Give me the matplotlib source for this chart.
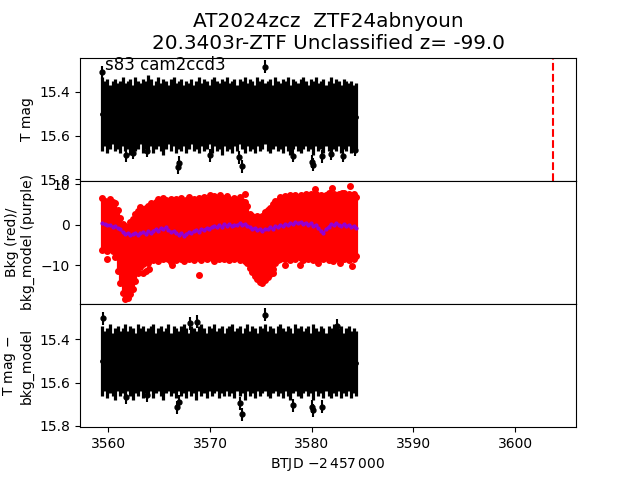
import numpy as np
import matplotlib
matplotlib.use("Agg")
import matplotlib.pyplot as plt

# time grid of the binned light curve (BTJD - 2457000)
btjd = [3559.40, 3559.65, 3559.90, 3560.15, 3560.40, 3560.65, 3560.90, 3561.15, 3561.40, 3561.65,
        3561.90, 3562.15, 3562.40, 3562.65, 3562.90, 3563.15, 3563.40, 3563.65, 3563.90, 3564.15,
        3564.40, 3564.65, 3564.90, 3565.15, 3565.40, 3565.65, 3565.90, 3566.15, 3566.40, 3566.65,
        3566.90, 3567.15, 3567.40, 3567.65, 3567.90, 3568.15, 3568.40, 3568.65, 3568.90, 3569.15,
        3569.40, 3569.65, 3569.90, 3570.15, 3570.40, 3570.65, 3570.90, 3571.15, 3571.40, 3571.65,
        3571.90, 3572.15, 3572.40, 3572.65, 3572.90, 3573.15, 3573.40, 3573.65, 3573.90, 3574.15,
        3574.40, 3574.65, 3574.90, 3575.15, 3575.40, 3575.65, 3575.90, 3576.15, 3576.40, 3576.65,
        3576.90, 3577.15, 3577.40, 3577.65, 3577.90, 3578.15, 3578.40, 3578.65, 3578.90, 3579.15,
        3579.40, 3579.65, 3579.90, 3580.15, 3580.40, 3580.65, 3580.90, 3581.15, 3581.40, 3581.65,
        3581.90, 3582.15, 3582.40, 3582.65, 3582.90, 3583.15, 3583.40, 3583.65, 3583.90, 3584.15,
        3584.40]

# T mag: bright and faint edge of the error bars at each time
tmag_hi = [15.33, 15.35, 15.34, 15.37, 15.35, 15.34, 15.36, 15.35, 15.33, 15.36,
           15.35, 15.34, 15.37, 15.33, 15.35, 15.36, 15.34, 15.35, 15.32, 15.34,
           15.37, 15.35, 15.33, 15.36, 15.34, 15.35, 15.37, 15.34, 15.33, 15.36,
           15.35, 15.34, 15.37, 15.35, 15.36, 15.34, 15.37, 15.35, 15.33, 15.36,
           15.34, 15.35, 15.37, 15.34, 15.33, 15.35, 15.36, 15.34, 15.35, 15.33,
           15.36, 15.35, 15.34, 15.37, 15.34, 15.35, 15.33, 15.36, 15.34, 15.35,
           15.37, 15.33, 15.35, 15.34, 15.36, 15.35, 15.34, 15.37, 15.33, 15.35,
           15.36, 15.34, 15.35, 15.33, 15.37, 15.34, 15.35, 15.36, 15.34, 15.33,
           15.35, 15.37, 15.34, 15.35, 15.33, 15.36, 15.35, 15.34, 15.37, 15.35,
           15.33, 15.36, 15.34, 15.35, 15.37, 15.34, 15.35, 15.36, 15.35, 15.37,
           15.36]
tmag_lo = [15.67, 15.65, 15.68, 15.66, 15.64, 15.67, 15.66, 15.68, 15.65, 15.67,
           15.66, 15.69, 15.65, 15.67, 15.66, 15.64, 15.68, 15.66, 15.67, 15.65,
           15.68, 15.66, 15.65, 15.67, 15.69, 15.66, 15.64, 15.67, 15.65, 15.68,
           15.66, 15.67, 15.65, 15.68, 15.66, 15.64, 15.67, 15.66, 15.68, 15.65,
           15.67, 15.66, 15.64, 15.68, 15.65, 15.67, 15.66, 15.69, 15.65, 15.67,
           15.66, 15.68, 15.65, 15.67, 15.64, 15.66, 15.68, 15.65, 15.67, 15.66,
           15.68, 15.65, 15.67, 15.66, 15.64, 15.67, 15.68, 15.66, 15.65, 15.67,
           15.66, 15.68, 15.65, 15.67, 15.69, 15.66, 15.65, 15.67, 15.68, 15.66,
           15.65, 15.67, 15.66, 15.69, 15.65, 15.67, 15.66, 15.68, 15.65, 15.67,
           15.68, 15.66, 15.67, 15.65, 15.68, 15.66, 15.67, 15.65, 15.68, 15.66,
           15.67]

# isolated T mag points
tmag_out_t = [3559.41, 3561.74, 3562.46, 3563.80, 3566.82, 3566.95, 3570.00, 3572.85, 3573.18,
              3575.41, 3578.19, 3580.03, 3580.08, 3580.98, 3581.90, 3583.10, 3584.25]
tmag_out = [15.31, 15.69, 15.68, 15.67, 15.745, 15.725, 15.69, 15.70, 15.742,
            15.285, 15.693, 15.72, 15.735, 15.696, 15.684, 15.693, 15.665]

# background (red): upper and lower edge of the point cloud, and the model (purple)
bkg_hi = [6.6, 5.8, 5.2, 6.2, 5.5, 5.4, 3.5, 1.5, 0.2, -0.3,
          -0.5, 0.6, 1.4, 2.6, 3.4, 4.4, 3.8, 4.0, 4.6, 5.2,
          4.8, 5.6, 6.4, 5.8, 6.6, 6.0, 5.4, 6.2, 5.5, 6.4,
          5.8, 6.6, 5.4, 6.0, 6.8, 5.6, 6.2, 5.4, 6.5, 5.9,
          6.9, 6.1, 5.6, 6.4, 7.0, 6.0, 6.7, 5.8, 6.5, 7.1,
          6.2, 5.7, 6.6, 6.0, 6.9, 5.8, 5.6, 4.5, 2.6, 2.2,
          1.6, 2.0, 1.4, 2.2, 3.0, 3.6, 4.2, 5.0, 5.8, 5.9,
          6.8, 6.2, 7.0, 6.5, 7.2, 6.6, 7.3, 6.7, 7.4, 6.9,
          7.5, 7.0, 7.6, 7.1, 7.5, 7.0, 7.4, 6.8, 7.3, 7.7,
          7.1, 7.5, 6.9, 7.6, 7.2, 7.7, 7.0, 7.5, 7.1, 7.6,
          6.8]
bkg_lo = [-6.3, -6.0, -6.4, -6.1, -6.5, -8.0, -11.5, -14.5, -17.0, -18.4,
          -18.0, -17.2, -16.0, -14.0, -12.0, -10.5, -9.8, -9.0, -9.4, -8.6,
          -8.8, -8.2, -8.9, -8.0, -8.6, -7.8, -8.5, -9.2, -8.0, -8.7,
          -7.9, -8.4, -8.9, -7.8, -8.6, -8.1, -8.8, -7.6, -8.3, -8.7,
          -7.9, -8.5, -7.7, -8.2, -8.9, -7.9, -8.4, -7.8, -8.6, -8.1,
          -8.8, -7.9, -8.5, -8.0, -8.7, -8.2, -8.9, -9.5, -10.6, -11.8,
          -12.7, -13.5, -14.2, -14.3, -13.8, -13.0, -12.2, -11.0, -9.6, -8.8,
          -8.6, -7.8, -8.4, -7.9, -8.7, -8.1, -8.5, -7.8, -8.3, -8.8,
          -7.9, -8.4, -8.0, -8.7, -8.1, -8.6, -7.7, -8.4, -8.0, -8.7,
          -7.9, -8.5, -8.0, -8.6, -7.8, -8.4, -8.0, -8.7, -8.2, -8.5,
          -7.8]
bkg_model = [0.4, 0.1, -0.2, -0.1, -0.5, -0.4, -0.9, -1.2, -1.8, -2.3,
             -2.1, -2.6, -2.4, -2.0, -2.5, -2.2, -1.9, -2.3, -1.7, -2.0,
             -1.5, -1.2, -1.6, -0.9, -1.2, -0.7, -1.4, -1.8, -1.6, -2.2,
             -2.5, -2.1, -2.7, -2.3, -1.9, -2.2, -1.6, -1.4, -1.8, -1.1,
             -1.3, -0.8, -1.0, -0.6, -0.3, -0.7, -0.2, -0.5, 0.1, -0.3,
             0.2, -0.4, 0.0, -0.2, 0.3, -0.1, 0.2, -0.3, -0.6, -1.0,
             -0.8, -1.3, -1.1, -1.5, -1.0, -1.2, -0.7, -1.0, -0.4, -0.6,
             -0.1, -0.4, 0.2, -0.1, 0.4, 0.1, 0.6, 0.3, 0.7, 0.2,
             0.5, 0.0, 0.3, -0.3, -0.1, -0.8, -1.6, -2.1, -1.2, -0.5,
             0.1, -0.2, 0.3, 0.0, -0.4, 0.1, -0.3, -0.1, -0.6, -0.4,
             -0.8]

# isolated background points
bkg_out_t = [3570.00, 3571.00, 3573.44, 3580.30, 3581.97, 3583.00, 3583.77,
             3559.90, 3563.44, 3563.70, 3564.00, 3566.23, 3568.95, 3576.20,
             3577.40, 3578.80, 3580.65, 3582.10, 3582.80, 3584.00]
bkg_out = [7.4, 7.2, 7.6, 8.7, 9.1, 7.9, 9.5,
           -8.4, -11.9, -11.5, -10.9, -9.9, -12.5, -11.9,
           -9.9, -9.9, -9.6, -9.1, -9.5, -10.3]

# T mag - bkg_model
dmag_hi = [15.34, 15.36, 15.35, 15.33, 15.37, 15.35, 15.34, 15.36, 15.35, 15.33,
           15.36, 15.34, 15.35, 15.37, 15.33, 15.35, 15.34, 15.36, 15.35, 15.34,
           15.33, 15.37, 15.35, 15.34, 15.36, 15.35, 15.33, 15.37, 15.34, 15.35,
           15.36, 15.34, 15.33, 15.35, 15.37, 15.34, 15.35, 15.36, 15.34, 15.33,
           15.35, 15.37, 15.34, 15.35, 15.33, 15.36, 15.35, 15.34, 15.37, 15.35,
           15.34, 15.33, 15.36, 15.35, 15.34, 15.37, 15.35, 15.33, 15.36, 15.34,
           15.35, 15.37, 15.34, 15.35, 15.33, 15.36, 15.34, 15.35, 15.37, 15.34,
           15.33, 15.35, 15.36, 15.34, 15.35, 15.37, 15.33, 15.35, 15.34, 15.36,
           15.35, 15.34, 15.37, 15.33, 15.35, 15.36, 15.34, 15.35, 15.37, 15.34,
           15.35, 15.33, 15.36, 15.35, 15.34, 15.37, 15.35, 15.34, 15.36, 15.35,
           15.36]
dmag_lo = [15.66, 15.64, 15.67, 15.65, 15.66, 15.68, 15.64, 15.66, 15.65, 15.67,
           15.64, 15.66, 15.68, 15.65, 15.66, 15.64, 15.67, 15.65, 15.66, 15.64,
           15.67, 15.65, 15.64, 15.66, 15.68, 15.65, 15.64, 15.66, 15.65, 15.67,
           15.64, 15.66, 15.65, 15.67, 15.64, 15.66, 15.65, 15.68, 15.64, 15.66,
           15.65, 15.67, 15.64, 15.66, 15.65, 15.64, 15.67, 15.65, 15.66, 15.64,
           15.66, 15.65, 15.67, 15.64, 15.66, 15.65, 15.68, 15.64, 15.66, 15.65,
           15.67, 15.64, 15.66, 15.65, 15.64, 15.66, 15.67, 15.65, 15.64, 15.66,
           15.65, 15.67, 15.64, 15.66, 15.68, 15.65, 15.64, 15.66, 15.67, 15.65,
           15.64, 15.66, 15.65, 15.68, 15.64, 15.66, 15.65, 15.67, 15.64, 15.66,
           15.67, 15.65, 15.66, 15.64, 15.67, 15.65, 15.66, 15.64, 15.67, 15.65,
           15.66]

dmag_out_t = [3559.50, 3561.74, 3563.80, 3566.70, 3566.95, 3572.95, 3573.18, 3575.41,
              3578.19, 3580.03, 3580.08, 3580.98, 3568.05, 3568.70, 3582.45]
dmag_out = [15.303, 15.668, 15.658, 15.715, 15.689, 15.696, 15.746, 15.287,
            15.704, 15.712, 15.727, 15.712, 15.326, 15.32, 15.338]
out_err = 0.03

t_discovery = 3603.7
title = "AT2024zcz  ZTF24abnyoun\n20.3403r-ZTF Unclassified z= -99.0"
sector_label = "s83 cam2ccd3"


def band_errorbar(ax, t, hi, lo, t_out, m_out):
    hi = np.array(hi)
    lo = np.array(lo)
    mid = (hi + lo) / 2
    ax.errorbar(t, mid, yerr=(lo - hi) / 2, fmt='o', color='k', ms=2.5,
                elinewidth=2.3, capsize=0)
    ax.errorbar(t_out, m_out, yerr=out_err, fmt='o', color='k', ms=3.5,
                elinewidth=1.5, capsize=0)


fig, axes = plt.subplots(3, 1, sharex=True, figsize=(6.4, 4.8), dpi=100)
fig.subplots_adjust(hspace=0)
ax1, ax2, ax3 = axes

band_errorbar(ax1, btjd, tmag_hi, tmag_lo, tmag_out_t, tmag_out)
ax1.axvline(t_discovery, color='r', ls='--', lw=1.5)
ax1.set_ylim(15.808, 15.242)
ax1.set_yticks([15.4, 15.6, 15.8])
ax1.set_ylabel('T mag')
ax1.set_title(title, fontsize=14.4)
ax1.text(0.05, 0.9, sector_label, transform=ax1.transAxes, fontsize=12)

ax2.vlines(btjd, bkg_lo, bkg_hi, color='r', lw=2.3)
ax2.plot(btjd, bkg_hi, 'o', color='r', ms=4)
ax2.plot(btjd, bkg_lo, 'o', color='r', ms=4)
ax2.plot(bkg_out_t, bkg_out, 'o', color='r', ms=4)
ax2.plot(btjd, bkg_model, '.-', color='darkviolet', ms=4, lw=1.2)
ax2.set_ylim(-19.6, 10.8)
ax2.set_yticks([-10, 0, 10])
ax2.set_ylabel('Bkg (red)/\nbkg_model (purple)')

band_errorbar(ax3, btjd, dmag_hi, dmag_lo, dmag_out_t, dmag_out)
ax3.set_ylim(15.806, 15.237)
ax3.set_yticks([15.4, 15.6, 15.8])
ax3.set_ylabel('T mag $-$\nbkg_model')
ax3.set_xlabel(r'BTJD $-2\,457\,000$')
ax3.set_xlim(3557.2, 3606.0)

for ax in (ax1, ax2):
    ax.tick_params(axis='x', bottom=False, labelbottom=False)

plt.savefig('out.png', dpi=100)
plt.close()
